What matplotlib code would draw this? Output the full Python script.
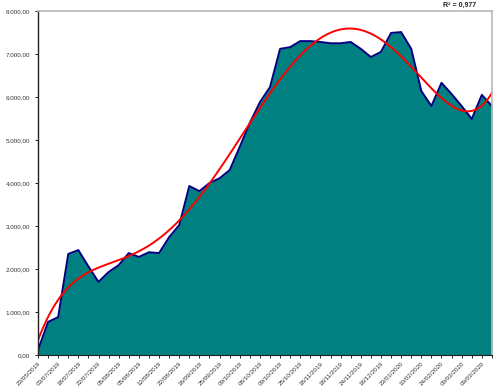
import numpy as np
import matplotlib.pyplot as plt
from matplotlib.ticker import FuncFormatter

plt.rcParams['font.family'] = ['Liberation Sans', 'DejaVu Sans']

# weekly values
values = [115, 770, 880, 2350, 2440, 2060, 1700, 1930, 2090, 2370,
          2280, 2390, 2370, 2740, 3020, 3930, 3810, 4000, 4110, 4300,
          4840, 5400, 5880, 6230, 7120, 7160, 7300, 7300, 7280, 7250,
          7250, 7280, 7120, 6930, 7050, 7490, 7510, 7120, 6140, 5790,
          6330, 6070, 5790, 5490, 6050, 5790]

# labels shown under every other category
date_labels = ['23/05/2019', '03/07/2019', '18/07/2019', '22/07/2019', '05/08/2019',
               '05/08/2019', '12/08/2019', '22/08/2019', '16/09/2019', '25/09/2019',
               '09/10/2019', '08/10/2019', '09/10/2019', '25/10/2019', '18/11/2019',
               '18/11/2019', '24/11/2019', '16/12/2019', '23/01/2020', '10/02/2020',
               '24/02/2020', '09/03/2020', '09/03/2020']

r2_text = 'R² = 0,977'

y = np.array(values, dtype=float)
x = np.arange(len(y))

# polynomial trend line
coef = np.polyfit(x + 1, y, 5)
xs = np.linspace(0, len(y) - 1, 300)
trend = np.polyval(coef, xs + 1)

fig = plt.figure(figsize=(5.03, 3.89), dpi=100)
ax = fig.add_axes([0.0755, 0.0874, 0.9025, 0.8843])

ax.fill_between(x, y, 0, color='#008080', linewidth=0)
ax.plot(x, y, color='#000080', linewidth=1.4)
ax.plot(xs, trend, color='#FF0000', linewidth=1.4)

ax.set_xlim(0, len(y) - 1)
ax.set_ylim(0, 8000)
ax.set_yticks(np.arange(0, 8001, 1000))
ax.yaxis.set_major_formatter(FuncFormatter(
    lambda v, p: f"{v:,.2f}".replace(',', 'X').replace('.', ',').replace('X', '.')))

ax.set_xticks(x, minor=True)
ax.set_xticks(x[::2])
ax.set_xticklabels(date_labels, rotation=45, ha='right', rotation_mode='anchor')
ax.tick_params(axis='x', which='both', length=2.5, width=0.6, labelsize=4.5, pad=2,
               labelcolor='#333333')
ax.tick_params(axis='y', length=2.5, width=0.6, labelsize=4.5, pad=3, labelcolor='#333333')

ax.spines['left'].set_color('#222222')
ax.spines['left'].set_linewidth(1.0)
ax.spines['bottom'].set_color('#222222')
ax.spines['bottom'].set_linewidth(0.8)
ax.spines['top'].set_color('#b8b8b8')
ax.spines['top'].set_linewidth(1.2)
ax.spines['right'].set_color('#b8b8b8')
ax.spines['right'].set_linewidth(1.2)

fig.text(0.88, 0.985, r2_text, fontsize=5, fontweight='bold', ha='left',
         va='center', color='#222222')

fig.savefig('out.png', dpi=100)
